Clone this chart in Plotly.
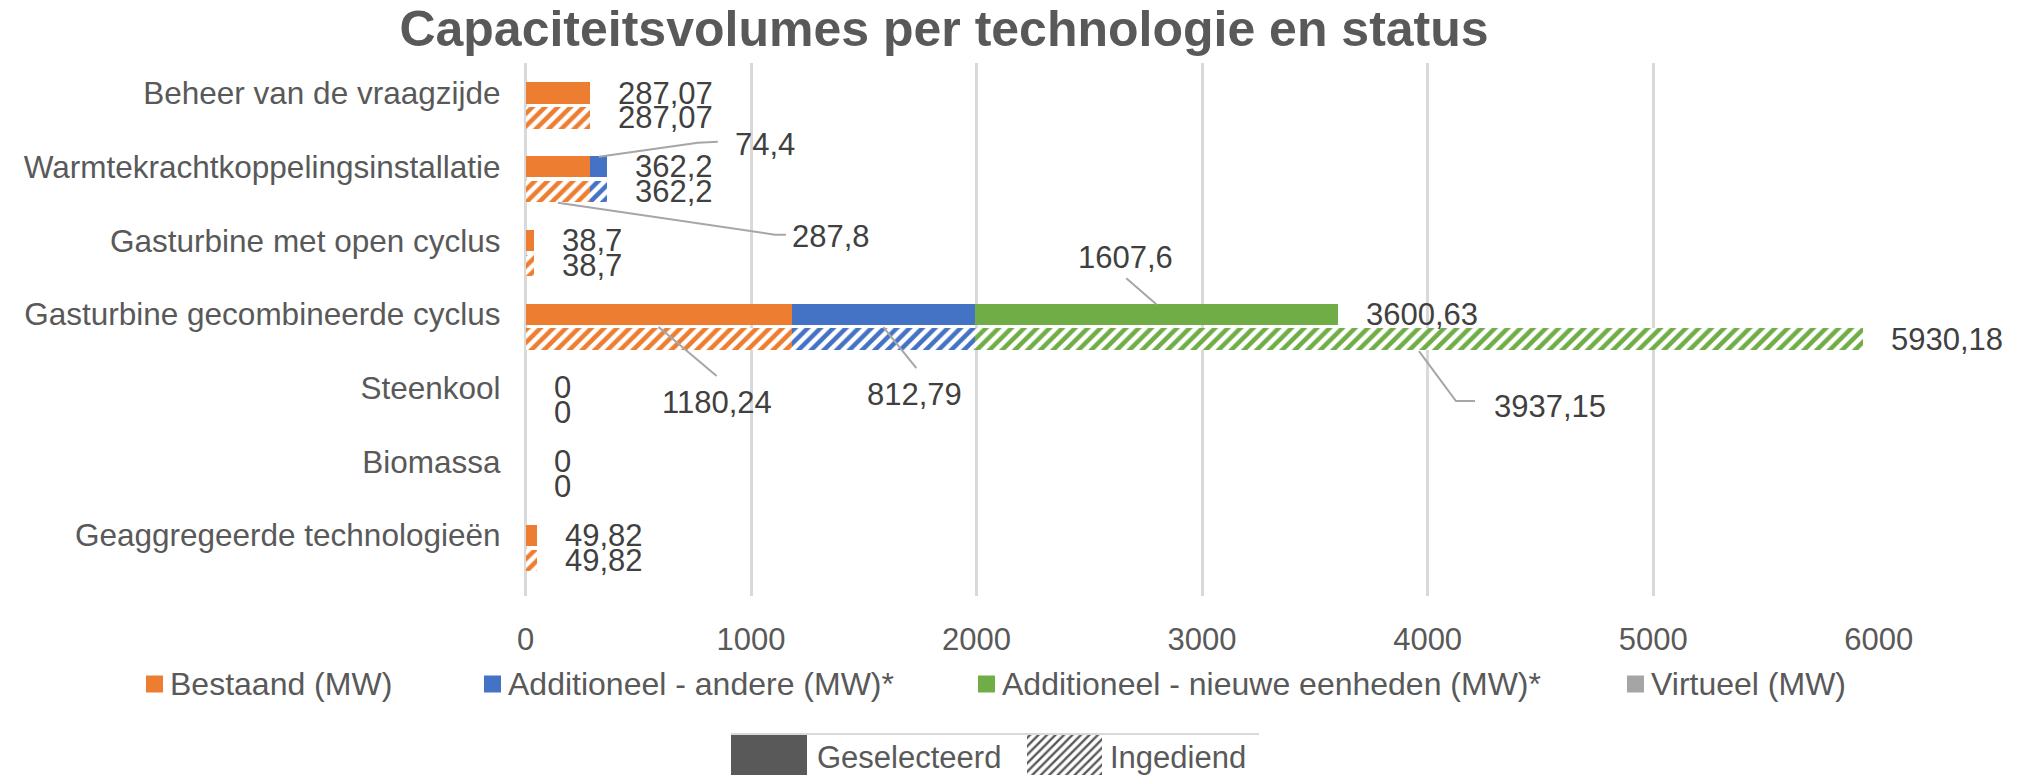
import plotly.graph_objects as go

# ---------------- data ----------------
categories = [
    "Beheer van de vraagzijde",
    "Warmtekrachtkoppelingsinstallatie",
    "Gasturbine met open cyclus",
    "Gasturbine gecombineerde cyclus",
    "Steenkool",
    "Biomassa",
    "Geaggregeerde technologieën",
]
series_names = [
    "Bestaand (MW)",
    "Additioneel - andere (MW)*",
    "Additioneel - nieuwe eenheden (MW)*",
    "Virtueel (MW)",
]
status_names = ["Geselecteerd", "Ingediend"]

# Geselecteerd (solid bars)
bestaand_sel = [287.07, 287.8, 38.7, 1180.24, 0, 0, 49.82]
andere_sel = [0, 74.4, 0, 812.79, 0, 0, 0]
nieuw_sel = [0, 0, 0, 1607.6, 0, 0, 0]
virtueel_sel = [0, 0, 0, 0, 0, 0, 0]

# Ingediend (hatched bars)
bestaand_ing = [287.07, 287.8, 38.7, 1180.24, 0, 0, 49.82]
andere_ing = [0, 74.4, 0, 812.79, 0, 0, 0]
nieuw_ing = [0, 0, 0, 3937.15, 0, 0, 0]
virtueel_ing = [0, 0, 0, 0, 0, 0, 0]

x_tick_values = [0, 1000, 2000, 3000, 4000, 5000, 6000]
x_tick_labels = ["0", "1000", "2000", "3000", "4000", "5000", "6000"]

# ---------------- styling / geometry ----------------
W, H = 2031, 775
COLORS = ["#ED7D31", "#4472C4", "#70AD47", "#A5A5A5"]
TXT = "#595959"
LBL = "#404040"
GRID = "#D9D9D9"
LEADER = "#A6A6A6"
FONT = "Liberation Sans, Arial, sans-serif"
FS = 31
FS_CAT = 31.5
FS_LEG = 32

PX_X0, PX_X1 = 525.5, 1878.7   # pixel position of x=0 and x=6000
PX_Y0, PX_Y1 = 63, 596         # top / bottom of plot area
X_MIN, X_MAX = 0, 6000
Y_TOP, Y_BOTTOM = -0.58, 6.65
SOLID_OFF, HATCH_OFF, BAR_W = -0.172, 0.165, 0.29


def dx_units(px):
    return px * (X_MAX - X_MIN) / (PX_X1 - PX_X0)


def dy_units(px):
    return px * (Y_BOTTOM - Y_TOP) / (PX_Y1 - PX_Y0)


def fmt(v):
    s = f"{v:.2f}".rstrip("0").rstrip(".")
    return s.replace(".", ",")


sel = [bestaand_sel, andere_sel, nieuw_sel, virtueel_sel]
ing = [bestaand_ing, andere_ing, nieuw_ing, virtueel_ing]
groups = {"sel": (sel, SOLID_OFF), "ing": (ing, HATCH_OFF)}

fig = go.Figure()

for key, (vals_list, off) in groups.items():
    ypos = [i + off for i in range(len(categories))]
    for s, vals in enumerate(vals_list):
        if key == "sel":
            marker = dict(color=COLORS[s], line=dict(width=0))
        else:
            marker = dict(
                color=COLORS[s],
                line=dict(width=0),
                pattern=dict(shape="/", fgcolor=COLORS[s], bgcolor="white",
                             size=9, solidity=0.5, fillmode="replace"),
            )
        fig.add_trace(go.Bar(
            x=vals, y=ypos, orientation="h", width=BAR_W, marker=marker,
            name=f"{series_names[s]} - {status_names[0 if key == 'sel' else 1]}",
            showlegend=False, hoverinfo="x+name",
        ))

annotations = []

# totals at bar ends
for key, (vals_list, off) in groups.items():
    for i in range(len(categories)):
        total = sum(v[i] for v in vals_list)
        annotations.append(dict(
            x=total, y=i + off, xref="x", yref="y", text=fmt(total),
            showarrow=False, xanchor="left", yanchor="middle", xshift=26,
            font=dict(size=FS, color=LBL, family=FONT),
        ))

# segment labels with leader lines (offsets in px from segment middle / bar centre)
seg_labels = [
    ("sel", 1, 1, [(0, -10), (99, -24), (119, -25)], 134, -22, "left"),
    ("ing", 0, 1, [(0, 11), (217, 43), (228, 43)], 232, 45, "left"),
    ("sel", 2, 3, [(0, -10), (-30, -36)], -31, -57, "center"),
    ("ing", 0, 3, [(0, -12), (58, 37)], 58, 63, "center"),
    ("ing", 1, 3, [(0, -12), (33, 29)], 31, 55, "center"),
    ("ing", 2, 3, [(0, 12), (37, 62), (56, 62)], 73, 67, "left"),
]
for key, s, c, pts, tdx, tdy, anchor in seg_labels:
    vals_list, off = groups[key]
    base = sum(vals_list[k][c] for k in range(s))
    val = vals_list[s][c]
    xm = base + val / 2
    yb = c + off
    fig.add_trace(go.Scatter(
        x=[xm + dx_units(p[0]) for p in pts],
        y=[yb + dy_units(p[1]) for p in pts],
        mode="lines", line=dict(color=LEADER, width=2),
        showlegend=False, hoverinfo="skip",
    ))
    annotations.append(dict(
        x=xm, y=yb, xref="x", yref="y", text=fmt(val), showarrow=False,
        xanchor=anchor, yanchor="middle", xshift=tdx, yshift=-tdy,
        font=dict(size=FS, color=LBL, family=FONT),
    ))

# ---------------- legends (custom) ----------------
shapes = []
legend_x = [146, 484, 978, 1627]
for s, name in enumerate(series_names):
    x0 = legend_x[s]
    shapes.append(dict(type="rect", xref="paper", yref="paper",
                       x0=x0 / W, x1=(x0 + 17) / W,
                       y0=1 - 692.5 / H, y1=1 - 675.5 / H,
                       fillcolor=COLORS[s], line=dict(width=0)))
    annotations.append(dict(x=(x0 + 22) / W, y=1 - 684 / H, xref="paper", yref="paper",
                            text=name, showarrow=False, xanchor="left", yanchor="middle",
                            font=dict(size=FS_LEG, color=TXT, family=FONT)))

# status legend
shapes.append(dict(type="line", xref="paper", yref="paper",
                   x0=731 / W, x1=1259 / W, y0=1 - 734 / H, y1=1 - 734 / H,
                   line=dict(color=GRID, width=2)))
shapes.append(dict(type="rect", xref="paper", yref="paper",
                   x0=731 / W, x1=807 / W, y0=0, y1=1 - 735 / H,
                   fillcolor=TXT, line=dict(width=0)))
fig.add_trace(go.Scatter(
    x=[1027, 1102, 1102, 1027, 1027], y=[735, 735, 775, 775, 735],
    xaxis="x2", yaxis="y2", mode="lines", fill="toself",
    line=dict(width=0), fillcolor="white",
    fillpattern=dict(shape="/", fgcolor=TXT, bgcolor="white", size=6, solidity=0.4),
    showlegend=False, hoverinfo="skip",
))
annotations.append(dict(x=815 / W, y=1 - 757 / H, xref="paper", yref="paper",
                        text=status_names[0], showarrow=False, xanchor="left", yanchor="middle",
                        font=dict(size=FS, color=TXT, family=FONT)))
annotations.append(dict(x=1108 / W, y=1 - 757 / H, xref="paper", yref="paper",
                        text=status_names[1], showarrow=False, xanchor="left", yanchor="middle",
                        font=dict(size=FS, color=TXT, family=FONT)))

fig.update_layout(
    template="none",
    width=W, height=H, autosize=False,
    margin=dict(l=0, r=0, t=0, b=0, pad=0),
    paper_bgcolor="white", plot_bgcolor="rgba(0,0,0,0)",
    font=dict(family=FONT, size=FS, color=TXT),
    barmode="stack",
    showlegend=False,
    title=dict(text="<b>Capaciteitsvolumes per technologie en status</b>",
               x=944 / W, xref="container", xanchor="center",
               y=1 - 28.5 / H, yref="container", yanchor="middle",
               font=dict(size=50, color=TXT, family=FONT)),
    xaxis=dict(domain=[PX_X0 / W, PX_X1 / W], range=[X_MIN, X_MAX],
               tickvals=x_tick_values, ticktext=x_tick_labels,
               showgrid=True, gridcolor=GRID, gridwidth=3,
               zeroline=True, zerolinecolor=GRID, zerolinewidth=3,
               showline=False, ticks="", ticklabelstandoff=22,
               tickfont=dict(size=FS, color=TXT, family=FONT),
               automargin=False, fixedrange=True),
    yaxis=dict(domain=[1 - PX_Y1 / H, 1 - PX_Y0 / H], range=[Y_BOTTOM, Y_TOP],
               tickvals=[i + SOLID_OFF for i in range(len(categories))],
               ticktext=categories, showgrid=False, zeroline=False,
               showline=False, ticks="", ticklabelstandoff=24,
               tickfont=dict(size=FS_CAT, color=TXT, family=FONT),
               automargin=False, fixedrange=True),
    xaxis2=dict(domain=[0, 1], range=[0, W], visible=False, anchor="y2", fixedrange=True),
    yaxis2=dict(domain=[0, 1], range=[H, 0], visible=False, anchor="x2", fixedrange=True),
    shapes=shapes,
    annotations=annotations,
)

fig.write_html("out.html", config={"displayModeBar": False},
               post_script="document.body.style.margin='0';document.body.style.overflow='hidden';")
